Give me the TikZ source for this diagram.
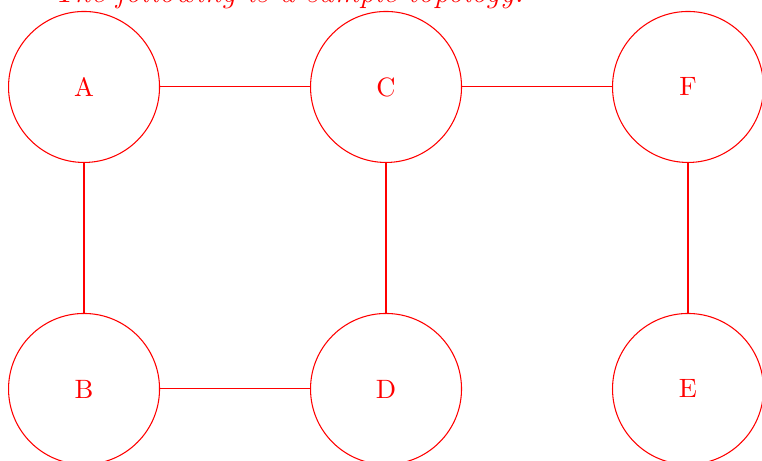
\documentclass[tikz,border=0pt]{standalone}
\begin{document}
\begin{tikzpicture}[
  every node/.style={text=red},
  host/.style={circle, draw=red, minimum size=2cm, inner sep=0pt},
  link/.style={draw=red}
]
\useasboundingbox (-1.113,-4.954) rectangle (8.98,1.152);
\node[anchor=base] (title) at (2.71,1.12) {\fontsize{11.8}{14}\selectfont\itshape The following is a sample topology.};
\node[host] (A) at (0,0) {A};
\node[host] (C) at (4,0) {C};
\node[host] (F) at (8,0) {F};
\node[host] (B) at (0,-4) {B};
\node[host] (D) at (4,-4) {D};
\node[host] (E) at (8,-4) {E};
\draw[link] (A) -- (C);
\draw[link] (C) -- (F);
\draw[link] (A) -- (B);
\draw[link] (C) -- (D);
\draw[link] (F) -- (E);
\draw[link] (B) -- (D);
\end{tikzpicture}
\end{document}
